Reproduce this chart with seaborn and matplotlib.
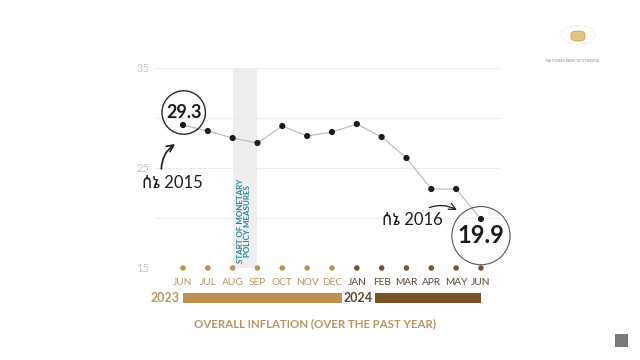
import matplotlib
matplotlib.use("Agg")
import matplotlib.pyplot as plt
import matplotlib.patches as mpatches
import numpy as np
import pandas as pd
import seaborn as sns

months = ["JUN", "JUL", "AUG", "SEP", "OCT", "NOV", "DEC",
          "JAN", "FEB", "MAR", "APR", "MAY", "JUN"]
inflation = [29.3, 28.7, 28.0, 27.5, 29.2, 28.2, 28.6,
             29.4, 28.1, 26.0, 22.9, 22.9, 19.9]
month_year = ["2023"] * 7 + ["2024"] * 6
years = ["2023", "2024"]
year_bar_start = [0.0, 7.75]
year_bar_end = [6.4, 12.0]
grid_levels = [15, 20, 25, 30, 35]
shown_ticks = ["15", "", "25", "", "35"]
policy_start = [2, 3]

LINE = "#bdb8a4"
DOT = "#1c1c1c"
YEAR_COL = {"2023": "#c0904e", "2024": "#7a5428"}
MONTH_COL = {"2023": "#b8955e", "2024": "#5a4630"}
TEAL = "#1f8a93"
ETH = ["Lato", "Noto Sans Ethiopic", "DejaVu Sans"]

sns.set_theme(style="white")
plt.rcParams["font.family"] = ["Lato", "Noto Sans Ethiopic", "DejaVu Sans"]

df = pd.DataFrame({"idx": np.arange(len(months)), "month": months,
                   "value": inflation, "year": month_year})

W, H = 640, 360
fig = plt.figure(figsize=(6.4, 3.6), dpi=100)
ax = fig.add_axes([155 / W, 1 - 268 / H, 345 / W, 200 / H])
x0, px = 183, 24.83
ax.set_xlim((155 - x0) / px, (500 - x0) / px)
ax.set_ylim(15, 35)

ax.axvspan(*policy_start, color="#eeeeef", lw=0, zorder=0)
ax.text(sum(policy_start) / 2 - 0.05, 19.7, "START OF MONETARY\nPOLICY MEASURES",
        rotation=90, ha="center", va="center", color=TEAL, fontsize=5.8,
        fontweight="bold", linespacing=1.0)

ax.set_yticks(grid_levels)
ax.set_yticklabels(shown_ticks)
ax.yaxis.grid(True, color="#ececec", lw=0.8)
ax.tick_params(axis="y", length=0, pad=4, labelsize=8, labelcolor="#cfc4b2")
ax.set_xticks(df["idx"])
ax.set_xticklabels(months)
ax.tick_params(axis="x", length=0, pad=7, labelsize=7.3)
for lbl, yr in zip(ax.get_xticklabels(), month_year):
    lbl.set_color(MONTH_COL[yr])
sns.despine(ax=ax, left=True, bottom=True)

sns.lineplot(data=df, x="idx", y="value", color=LINE, lw=0.8, ax=ax, zorder=2)
sns.scatterplot(data=df, x="idx", y="value", color=DOT, s=20, edgecolor="none",
                ax=ax, zorder=3)
df["base"] = grid_levels[0]
sns.scatterplot(data=df, x="idx", y="base", hue="year", palette=YEAR_COL, s=16,
                edgecolor="none", legend=False, ax=ax, zorder=3, clip_on=False)
ax.set_xlabel("")
ax.set_ylabel("")

# labelled endpoints
ax.annotate(f"{inflation[0]}", xy=(0, inflation[0]), xytext=(0.5, 9),
            textcoords="offset points", ha="center", va="center",
            fontsize=13, fontweight="bold", color="#1c1c1c",
            bbox=dict(boxstyle="circle,pad=0.22", fc="none", ec="#2a2a2a", lw=1.0))
ax.annotate(f"{inflation[-1]}", xy=(12, inflation[-1]), xytext=(0, -12),
            textcoords="offset points", ha="center", va="center",
            fontsize=17, fontweight="bold", color="#1c1c1c",
            bbox=dict(boxstyle="circle,pad=0.24", fc="none", ec="#555555", lw=0.8))

ax.annotate("ሰኔ 2015", xy=(-0.32, 27.4), xytext=(-0.44, 23.5),
            ha="center", va="center", fontsize=12, color="#1c1c1c", family=ETH,
            arrowprops=dict(arrowstyle="->", color="#1c1c1c", lw=1.2,
                            connectionstyle="arc3,rad=-0.3", relpos=(0.33, 1.0),
                            shrinkA=2, shrinkB=0))
ax.annotate("ሰኔ 2016", xy=(11.03, 20.8), xytext=(9.22, 19.8),
            ha="center", va="center", fontsize=12, color="#1c1c1c", family=ETH,
            arrowprops=dict(arrowstyle="->", color="#1c1c1c", lw=0.9,
                            connectionstyle="arc3,rad=-0.3", relpos=(0.65, 1.0),
                            shrinkA=2, shrinkB=0))

# year bars
bax = fig.add_axes([155 / W, 1 - 303 / H, 345 / W, 10 / H])
bax.set_xlim(ax.get_xlim())
bax.set_ylim(0, 1)
for yr, s, e in zip(years, year_bar_start, year_bar_end):
    bax.barh(0.5, e - s, left=s, height=1, color=YEAR_COL[yr], lw=0)
    bax.text(s - 0.12, 0.5, yr, ha="right", va="center", fontsize=9,
             fontweight="bold", color=MONTH_COL[yr])
bax.axis("off")

fig.text(315 / W, 1 - 324 / H, "OVERALL INFLATION (OVER THE PAST YEAR)",
         ha="center", va="center", fontsize=8.3, fontweight="bold", color="#b89560")

# logo (top right) and corner icon
fig.patches.append(mpatches.Circle((578 / W, 1 - 35 / H), 17 / W, transform=fig.transFigure,
                                   fill=False, ec="#e3d2ae", lw=0.6, ls=":"))
fig.patches.append(mpatches.FancyBboxPatch((571 / W, 1 - 41 / H), 14 / W, 10 / H,
                                           boxstyle="round,pad=0,rounding_size=0.01",
                                           transform=fig.transFigure, fc="#e2c688",
                                           ec="#c9a24f", lw=0.6))
fig.text(573 / W, 1 - 61 / H, "NATIONAL BANK OF ETHIOPIA", ha="center", va="center",
         fontsize=2.6, color="#8a8a8a")
fig.patches.append(mpatches.Rectangle((615 / W, 1 - 347 / H), 13 / W, 13 / H,
                                      transform=fig.transFigure, color="#7a7a7a", lw=0))

fig.savefig("out.png", dpi=100, facecolor="white")
